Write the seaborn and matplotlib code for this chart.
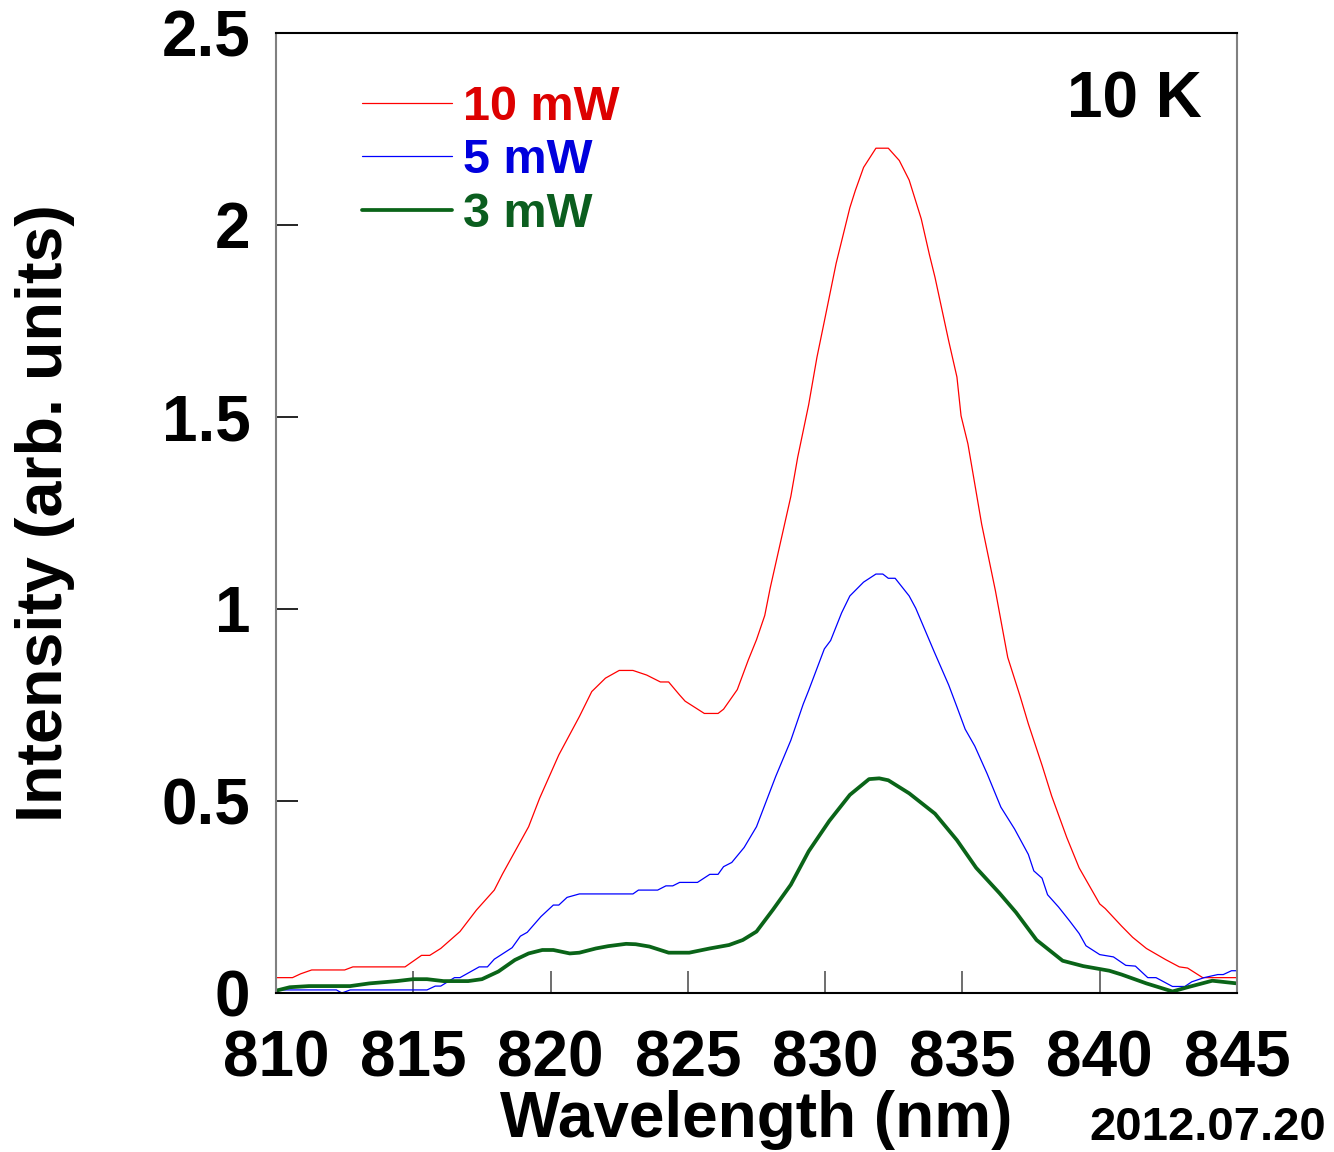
import numpy as np
import pandas as pd
import matplotlib
matplotlib.use("Agg")
import matplotlib.pyplot as plt
import seaborn as sns
from matplotlib.lines import Line2D

# ---- data ----
red_x = [810.0, 810.6, 810.9, 811.3, 812.5, 812.8, 814.7, 815.3, 815.6, 816.0, 816.7, 817.3, 817.95,
         818.25, 819.2, 819.6, 820.3, 821.05, 821.5, 822.0, 822.5, 823.0, 823.5, 824.0, 824.3, 824.7,
         824.9, 825.6, 826.1, 826.3, 826.8, 827.2, 827.5, 827.8, 828.0, 828.75, 829.0, 829.4, 829.7,
         829.97, 830.4, 830.9, 831.1, 831.4, 831.85, 832.3, 832.7, 833.06, 833.5, 833.8, 834.0, 834.5,
         834.8, 834.95, 835.2, 835.7, 836.2, 836.65, 837.1, 837.4, 837.9, 838.25, 838.8, 839.25, 840.0,
         840.2, 840.8, 841.2, 841.7, 842.4, 842.9, 843.2, 843.75, 845.0]
red_y = [0.040, 0.040, 0.050, 0.060, 0.060, 0.068, 0.068, 0.098, 0.098, 0.116, 0.160, 0.216, 0.268,
         0.310, 0.433, 0.507, 0.620, 0.720, 0.785, 0.820, 0.840, 0.840, 0.828, 0.810, 0.810, 0.776,
         0.760, 0.728, 0.728, 0.739, 0.790, 0.867, 0.920, 0.983, 1.055, 1.293, 1.395, 1.532, 1.655,
         1.749, 1.900, 2.045, 2.090, 2.150, 2.200, 2.200, 2.168, 2.117, 2.016, 1.922, 1.864, 1.698,
         1.604, 1.503, 1.430, 1.221, 1.048, 0.874, 0.773, 0.701, 0.593, 0.513, 0.405, 0.326, 0.232,
         0.220, 0.174, 0.145, 0.116, 0.087, 0.068, 0.065, 0.040, 0.040]

blue_x = [810.0, 812.2, 812.4, 812.7, 815.5, 815.8, 816.0, 816.5, 816.7, 817.4, 817.7, 817.95, 818.6,
          818.9, 819.15, 819.65, 820.1, 820.3, 820.6, 821.05, 823.0, 823.2, 823.9, 824.2, 824.45, 824.7,
          825.35, 825.8, 826.1, 826.3, 826.6, 827.05, 827.5, 828.2, 828.75, 829.2, 829.4, 829.97, 830.2,
          830.6, 830.9, 831.4, 831.85, 832.1, 832.3, 832.55, 833.06, 833.3, 833.97, 834.5, 834.8, 835.1,
          835.45, 835.9, 836.4, 836.9, 837.4, 837.6, 837.9, 838.1, 838.5, 838.9, 839.25, 839.5, 840.0,
          840.5, 840.95, 841.3, 841.75, 842.05, 842.65, 843.1, 843.35, 843.8, 844.3, 844.5, 844.8, 845.0]
blue_y = [0.008, 0.008, 0.000, 0.008, 0.008, 0.018, 0.018, 0.040, 0.040, 0.068, 0.068, 0.088, 0.118,
          0.148, 0.158, 0.199, 0.229, 0.229, 0.249, 0.258, 0.258, 0.268, 0.268, 0.279, 0.279, 0.288,
          0.288, 0.309, 0.309, 0.329, 0.340, 0.379, 0.433, 0.564, 0.658, 0.752, 0.788, 0.896, 0.918,
          0.990, 1.034, 1.070, 1.091, 1.091, 1.080, 1.080, 1.034, 1.002, 0.889, 0.802, 0.745, 0.687,
          0.643, 0.571, 0.484, 0.427, 0.361, 0.318, 0.299, 0.256, 0.224, 0.188, 0.155, 0.123, 0.100,
          0.094, 0.072, 0.070, 0.040, 0.040, 0.017, 0.017, 0.029, 0.040, 0.048, 0.048, 0.058, 0.058]

green_x = [810.0, 810.5, 811.2, 812.7, 813.4, 814.4, 815.0, 815.5, 816.1, 817.0, 817.5, 818.1, 818.7,
           819.2, 819.7, 820.1, 820.7, 821.05, 821.65, 822.1, 822.75, 823.1, 823.6, 824.3, 825.05, 825.8,
           826.5, 827.0, 827.5, 828.1, 828.75, 829.4, 830.15, 830.9, 831.6, 831.97, 832.3, 833.06, 834.0,
           834.8, 835.5, 836.35, 836.95, 837.7, 838.65, 839.4, 840.35, 840.8, 841.7, 842.65, 843.2,
           844.1, 845.0]
green_y = [0.006, 0.015, 0.018, 0.018, 0.025, 0.031, 0.036, 0.036, 0.031, 0.031, 0.036, 0.056, 0.086,
           0.103, 0.112, 0.112, 0.103, 0.105, 0.116, 0.122, 0.128, 0.127, 0.121, 0.105, 0.105, 0.116,
           0.125, 0.138, 0.160, 0.217, 0.282, 0.369, 0.448, 0.516, 0.557, 0.559, 0.554, 0.520, 0.467,
           0.398, 0.326, 0.260, 0.210, 0.138, 0.084, 0.070, 0.058, 0.048, 0.025, 0.004, 0.015,
           0.032, 0.025]

series_labels = ["10 mW", "5 mW", "3 mW"]
line_colors = ["#FF0000", "#0000FF", "#0A6418"]
text_colors = ["#DD0000", "#0000DD", "#0B5E1F"]
line_widths = [0.9, 0.9, 2.7]

x_ticks = [810, 815, 820, 825, 830, 835, 840, 845]
y_ticks = [0, 0.5, 1, 1.5, 2, 2.5]
y_tick_labels = ["0", "0.5", "1", "1.5", "2", "2.5"]

# ---- style ----
sns.set_style("white")
plt.rcParams["font.family"] = ["Liberation Sans", "DejaVu Sans"]
plt.rcParams["font.weight"] = "bold"
plt.rcParams["text.color"] = "black"
plt.rcParams["axes.labelcolor"] = "black"
plt.rcParams["xtick.color"] = "black"
plt.rcParams["ytick.color"] = "black"

W, H = 1334, 1152
fig = plt.figure(figsize=(W / 100, H / 100), dpi=100)
ax = fig.add_axes([276 / W, 1 - 993 / H, (1237 - 276) / W, (993 - 33) / H])

frames = []
for xs, ys, lab in [(red_x, red_y, series_labels[0]),
                    (blue_x, blue_y, series_labels[1]),
                    (green_x, green_y, series_labels[2])]:
    frames.append(pd.DataFrame({"wl": xs, "I": ys, "power": lab}))
df = pd.concat(frames, ignore_index=True)

for lab, c, lw in zip(series_labels, line_colors, line_widths):
    sub = df[df["power"] == lab]
    sns.lineplot(data=sub, x="wl", y="I", color=c, linewidth=lw, ax=ax,
                 sort=False, estimator=None, legend=False,
                 solid_joinstyle="round", solid_capstyle="round")

ax.set_xlim(810, 845)
ax.set_ylim(0, 2.5)
ax.set_xticks(x_ticks)
ax.set_xticklabels([str(t) for t in x_ticks])
ax.set_yticks(y_ticks)
ax.set_yticklabels(y_tick_labels)

ax.tick_params(axis="y", direction="in", length=16, width=1.2, color="black",
               labelcolor="black", labelsize=46, pad=18.5, left=True, right=False)
ax.tick_params(axis="x", direction="in", length=16, width=1.2, color="#555555",
               labelcolor="black", labelsize=46, pad=26, bottom=True, top=False)
for lbl in ax.get_xticklabels() + ax.get_yticklabels():
    lbl.set_fontweight("bold")

for side in ["left", "right"]:
    ax.spines[side].set_color("#808080")
    ax.spines[side].set_linewidth(1.5)
for side in ["top", "bottom"]:
    ax.spines[side].set_color("black")
    ax.spines[side].set_linewidth(1.5)

ax.set_xlabel("Wavelength (nm)", fontsize=46, fontweight="bold", color="black")
ax.xaxis.set_label_coords(0.5, (993 - 1137) / 960)
ax.xaxis.label.set_verticalalignment("baseline")

ax.set_ylabel("Intensity (arb. units)", fontsize=46.5, fontweight="bold", color="black")
ax.yaxis.set_label_coords((45 - 276) / 961, 0.5)
ax.yaxis.label.set_verticalalignment("center")
ax.yaxis.label.set_horizontalalignment("center")

# legend
handles = [Line2D([], [], color=c, lw=lw) for c, lw in zip(line_colors, line_widths)]
leg = ax.legend(handles, series_labels, loc="upper left",
                bbox_to_anchor=(362 / W, 1 - 85 / H), bbox_transform=fig.transFigure,
                frameon=False, handlelength=1.85, handletextpad=0.22,
                labelspacing=0.17, borderpad=0, borderaxespad=0, labelcolor=text_colors,
                prop={"weight": "bold", "size": 35})

fig.text(1202 / W, 1 - 117 / H, "10 K", fontsize=46, fontweight="bold",
         ha="right", va="baseline", color="black")
fig.text(1326 / W, 2 / H, "2012.07.20", fontsize=34, fontweight="bold",
         ha="right", va="bottom", color="black")

fig.savefig("out.png", dpi=100, facecolor="white")
